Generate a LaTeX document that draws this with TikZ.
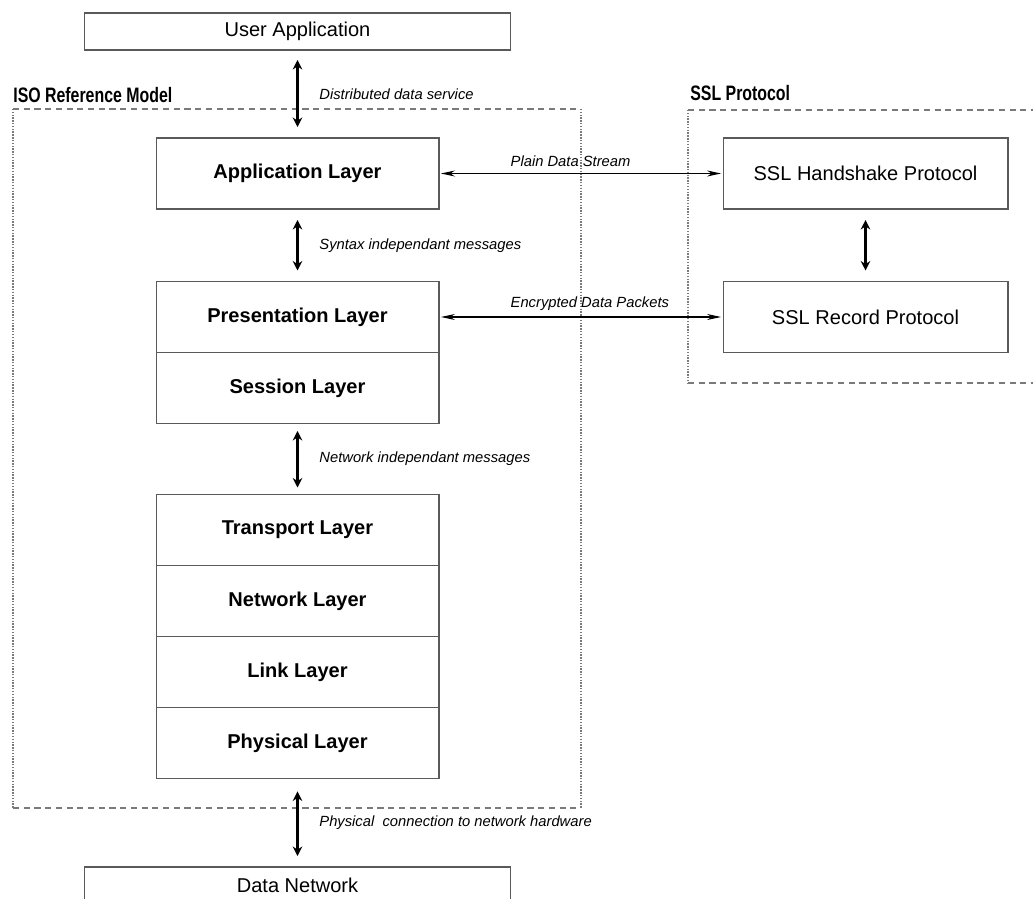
\documentclass[tikz,border=0pt]{standalone}
\usepackage{fontspec}
\setmainfont{Liberation Sans}
\usepackage{graphicx}
\usetikzlibrary{positioning, arrows.meta}
\definecolor{boxgray}{HTML}{5A5A5A}
\definecolor{groupgray}{HTML}{7A7A7A}
\newcommand{\grouptitle}[1]{\scalebox{0.76}[1]{\bfseries #1}}

\begin{document}
\begin{tikzpicture}[
            x=0.02cm, y=-0.02cm,
            layer/.style={rectangle, draw=boxgray, line width=0.6pt, minimum width=5.66cm,
                          minimum height=1.42cm, inner sep=0pt, outer sep=0pt,
                          font=\fontsize{11.4}{13}\selectfont\bfseries},
            sslbox/.style={layer, minimum width=5.7cm, font=\fontsize{11.4}{13}\selectfont},
            endbox/.style={layer, minimum width=8.54cm, minimum height=0.74cm,
                           font=\fontsize{11.4}{13}\selectfont},
            vlink/.style={{Stealth[length=0.19cm,width=0.19cm]}-{Stealth[length=0.19cm,width=0.19cm]},
                          line width=1.2pt, shorten <=0.22cm, shorten >=0.22cm},
            hlink/.style={{Stealth[length=0.28cm,width=0.12cm]}-{Stealth[length=0.28cm,width=0.12cm]},
                          line width=0.6pt, shorten <=0.04cm, shorten >=0.04cm},
            flowlabel/.style={font=\fontsize{8.4}{10}\selectfont\itshape},
            grouplabel/.style={anchor=west, inner sep=0pt, font=\fontsize{11.9}{13}\selectfont},
            groupedge/.style={draw=groupgray, line width=0.6pt, dash pattern=on 3.5pt off 2.6pt},
            groupside/.style={draw=groupgray, line width=0.6pt, dash pattern=on 0.8pt off 0.8pt}
        ]
            \useasboundingbox (0,0) rectangle (1033,898);
            \clip (0,0) rectangle (1033,898);

            % ISO stack
            \node[endbox] (user) at (297.5,31.5) {User Application};
            \node[layer] (app) at (297.5,173.5) {Application Layer};
            \node[layer] (pres) at (297.5,317) {Presentation Layer};
            \node[layer, below=0pt of pres] (sess) {Session Layer};
            \node[layer] (trans) at (297.5,530) {Transport Layer};
            \node[layer, below=0pt of trans] (net) {Network Layer};
            \node[layer, below=0pt of net] (link) {Link Layer};
            \node[layer, below=0pt of link] (phys) {Physical Layer};
            \node[endbox] (datanet) at (297.5,885.5) {Data Network};

            % SSL side
            \node[sslbox] (hand) at (865.5,173.5) {SSL Handshake Protocol};
            \node[sslbox] (record) at (865.5,317) {SSL Record Protocol};

            % Group frames
            \node[grouplabel] (isolabel) at (13,95) {\grouptitle{ISO Reference Model}};
            \draw[groupedge] (13,109) -- (581,109) (13,808) -- (581,808);
            \draw[groupside] (13,109) -- (13,808) (581,109) -- (581,808);
            \node[grouplabel] (ssllabel) at (690,93) {\grouptitle{SSL Protocol}};
            \draw[groupedge] (688,110) -- (1040,110) (688,383) -- (1040,383);
            \draw[groupside] (688,110) -- (688,383);

            \draw[vlink, shorten <=0.2cm] (user) -- (app)
                node[midway, right=0.3cm, flowlabel] {Distributed data service};
            \draw[vlink] (app) -- (pres)
                node[midway, right=0.3cm, flowlabel] {Syntax independant messages};
            \draw[vlink, shorten <=0.15cm, shorten >=0.14cm] (sess) -- (trans)
                node[midway, right=0.3cm, flowlabel] {Network independant messages};
            \draw[vlink, shorten <=0.26cm] (phys) -- (datanet)
                node[midway, right=0.3cm, flowlabel] {Physical\ \ connection to network hardware};
            \draw[vlink] (hand) -- (record);

            \draw[hlink] (app) -- (hand)
                node[pos=0.23, anchor=south west, flowlabel] {Plain Data Stream};
            \draw[hlink] (pres) -- (record)
                node[pos=0.23, anchor=south west, flowlabel] {Encrypted Data Packets};
        \end{tikzpicture}
\end{document}
